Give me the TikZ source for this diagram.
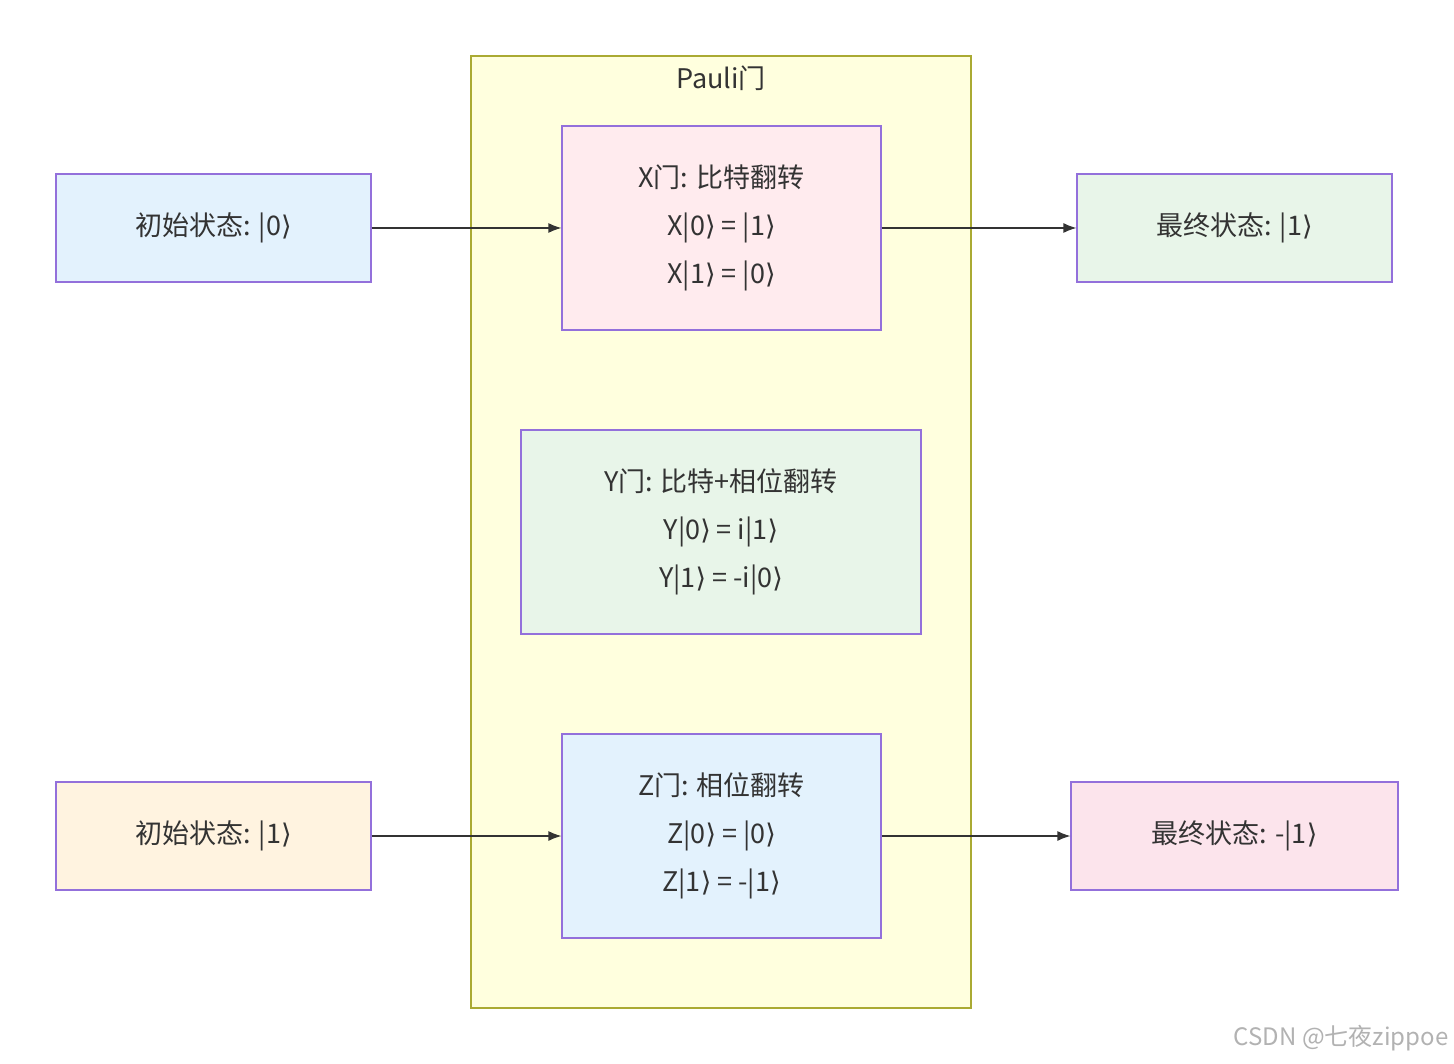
\documentclass[tikz,border=0pt]{standalone}
\usepackage{fontspec}
\setmainfont{Noto Sans CJK SC}
\newfontfamily\djv{DejaVu Sans}
\newcommand\kr{{\djv ⟩}}
\usetikzlibrary{arrows.meta}
\definecolor{bd}{HTML}{9370DB}
\definecolor{cf}{HTML}{FFFFDE}
\definecolor{cb}{HTML}{AAAA33}
\definecolor{tx}{HTML}{333333}
\definecolor{c1}{HTML}{E3F2FD}
\definecolor{c2}{HTML}{FFEBEE}
\definecolor{c3}{HTML}{E8F5E9}
\definecolor{c4}{HTML}{FFF3E0}
\definecolor{c5}{HTML}{FCE4EC}
\begin{document}
\begin{tikzpicture}[x=1pt,y=-1pt,
  box/.style={draw=bd,line width=1.2pt,minimum width=#1,text=tx,align=center,font=\fontsize{27}{48}\selectfont},
  ar/.style={draw=tx,line width=1.2pt,-{Latex[length=13pt,width=10pt]}}]
\useasboundingbox (0,0) rectangle (1454,1064);
\fill[white] (0,0) rectangle (1454,1064);
\draw[fill=cf,draw=cb,line width=1.2pt] (471,56) rectangle (971,1008);
\node[text=tx,font=\fontsize{27}{32}\selectfont] (title) at (721,78) {Pauli门};
\node[box=315pt,minimum height=108pt,fill=c1] (i0) at (213.5,228) {初始状态: |0\kr};
\node[box=319pt,minimum height=204pt,fill=c2] (X) at (721.5,228) {X门: 比特翻转\\X|0\kr{} = |1\kr\\X|1\kr{} = |0\kr};
\node[box=315pt,minimum height=108pt,fill=c3] (f1) at (1234.5,228) {最终状态: |1\kr};
\node[box=400pt,minimum height=204pt,fill=c3] (Y) at (721,532) {Y门: 比特+相位翻转\\Y|0\kr{} = i|1\kr\\Y|1\kr{} = -i|0\kr};
\node[box=319pt,minimum height=204pt,fill=c1] (Z) at (721.5,836) {Z门: 相位翻转\\Z|0\kr{} = |0\kr\\Z|1\kr{} = -|1\kr};
\node[box=315pt,minimum height=108pt,fill=c4] (i1) at (213.5,836) {初始状态: |1\kr};
\node[box=327pt,minimum height=108pt,fill=c5] (fm) at (1234.5,836) {最终状态: -|1\kr};
\draw[ar] (i0) -- (X);
\draw[ar] (X) -- (f1);
\draw[ar] (i1) -- (Z);
\draw[ar] (Z) -- (fm);
\node[anchor=east,text=black!30,font=\fontsize{24}{28}\selectfont] (wm) at (1452,1038) {CSDN @七夜zippoe};
\end{tikzpicture}
\end{document}
